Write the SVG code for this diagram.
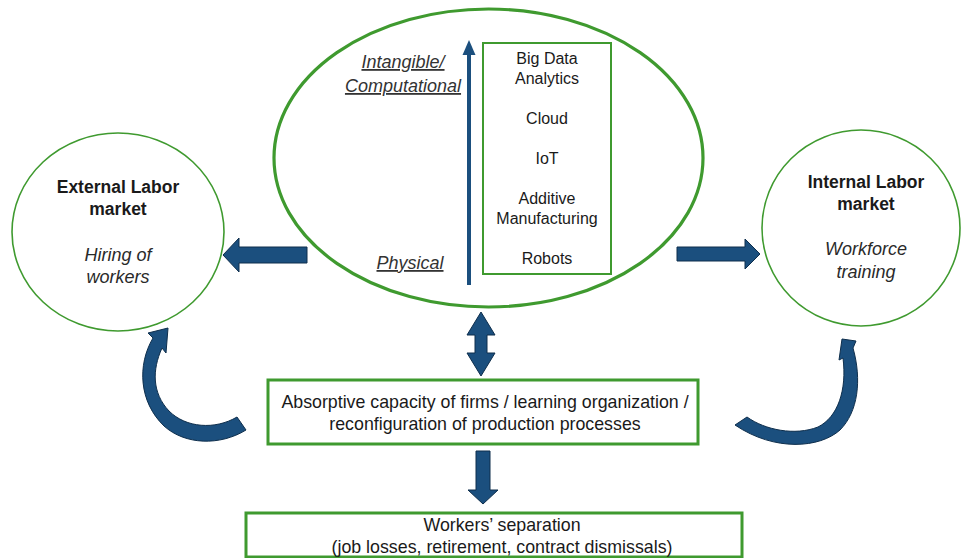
<svg xmlns="http://www.w3.org/2000/svg" width="961" height="558" viewBox="0 0 961 558">
<style>
text{font-family:"Liberation Sans",Arial,sans-serif;fill:#1a1a1a;text-anchor:middle}
.b{font-size:17.5px;font-weight:bold}
.i{font-size:18px;font-style:italic;fill:#2a2a2a}
.u{font-size:18px;font-style:italic;text-decoration:underline;fill:#333}
.n{font-size:16px}
.m{font-size:17.8px}
.green{fill:none;stroke:#3f9a2f}
.arr{fill:#1b4f7e;stroke:#0e2e4c;stroke-width:1}
</style>
<rect width="961" height="558" fill="#fff"/>
<g id="tech">
<ellipse class="green" cx="488.5" cy="158" rx="214.5" ry="149" stroke-width="3.2"/>
<line x1="469" y1="285" x2="469" y2="52" stroke="#1b4f7e" stroke-width="4"/>
<polygon points="469,40 462.5,55 475.5,55" fill="#1b4f7e"/>
<text class="u" x="403" y="68">Intangible/</text>
<text class="u" x="403" y="92">Computational</text>
<text class="u" x="410" y="269">Physical</text>
<rect class="green" x="483" y="43" width="128" height="231" stroke-width="2"/>
<text class="n" x="547" y="64">Big Data</text>
<text class="n" x="547" y="84">Analytics</text>
<text class="n" x="547" y="124">Cloud</text>
<text class="n" x="547" y="164">IoT</text>
<text class="n" x="547" y="204">Additive</text>
<text class="n" x="547" y="224">Manufacturing</text>
<text class="n" x="547" y="264">Robots</text>
</g>
<g id="external">
<ellipse class="green" cx="118" cy="232" rx="106" ry="99" stroke-width="1.6"/>
<text class="b" x="118" y="193">External Labor</text>
<text class="b" x="118" y="215">market</text>
<text class="i" x="118" y="261">Hiring of</text>
<text class="i" x="118" y="283">workers</text>
</g>
<g id="internal">
<ellipse class="green" cx="861" cy="228" rx="99" ry="98" stroke-width="1.6"/>
<text class="b" x="866" y="188">Internal Labor</text>
<text class="b" x="866" y="210">market</text>
<text class="i" x="866" y="255">Workforce</text>
<text class="i" x="866" y="278">training</text>
</g>
<g id="absorptive">
<rect class="green" x="268" y="380" width="430" height="64" stroke-width="3"/>
<text class="m" x="485" y="408">Absorptive capacity of firms / learning organization /</text>
<text class="m" x="485" y="430">reconfiguration of production processes</text>
</g>
<g id="separation">
<rect class="green" x="246" y="513" width="496" height="44" stroke-width="3"/>
<text class="m" x="502" y="531">Workers’ separation</text>
<text class="m" x="502" y="553">(job losses, retirement, contract dismissals)</text>
</g>
<g id="connectors">
<polygon class="arr" points="223,255 239,238 239,247 307,247 307,263 239,263 239,272"/>
<polygon class="arr" points="677,247 745,247 745,239 760,254 745,269 745,261 677,261"/>
<polygon class="arr" points="481,312 467,335 475,335 475,353 467,353 481,376 495,353 487,353 487,335 495,335"/>
<polygon class="arr" points="476,451 490,451 490,490 498,490 483,504 468,490 476,490"/>
<path class="arr" d="M168 328 L148 333 L153 338 C137 365 139 402 164 426 C185 445 220 446 246 430 L237 417 C215 430 186 428 169 411 C152 393 152 370 162 348 L166 353 Z"/>
<path class="arr" d="M842 339 L856 341 L853 348 C862 380 858 412 840 430 C820 448 775 452 735 425 L747 417 C765 430 795 436 818 427 C838 417 847 390 843 358 L839 360 Z"/>
</g>
</svg>
